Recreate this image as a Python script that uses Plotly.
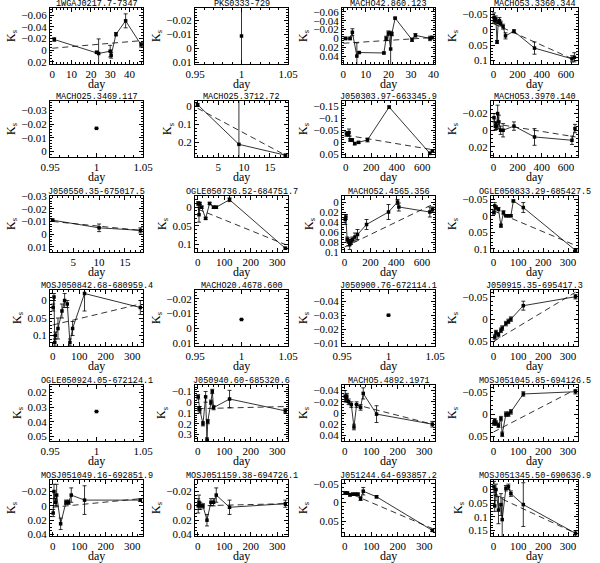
import plotly.graph_objects as go

# ---------------- data ----------------
names = ["1WGAJ0217.7-7347", "PKS0333-729", "MACHO42.860.123", "MACHO53.3360.344",
         "MACHO25.3469.117", "MACHO25.3712.72", "J050303.97-663345.9", "MACHO53.3970.140",
         "J050550.35-675017.5", "OGLE050736.52-684751.7", "MACHO52.4565.356", "OGLE050833.29-685427.5",
         "MOSJ050842.68-680959.4", "MACHO20.4678.600", "J050900.76-672114.1", "J050915.35-695417.3",
         "OGLE050924.05-672124.1", "J050940.60-685320.6", "MACHO5.4892.1971", "MOSJ051045.85-694126.5",
         "MOSJ051049.16-692851.9", "MOSJ051159.38-694726.1", "J051244.64-693857.2", "MOSJ051345.50-690636.9"]

day = [
    [1, 23, 24, 30, 30.5, 33, 38, 46],
    [1],
    [1, 3, 4, 6, 7, 18, 19, 20, 21, 21.5, 23, 30.5, 32, 38.5, 39.5],
    [5, 10, 20, 30, 40, 50, 60, 80, 100, 170, 340, 650, 670],
    [1],
    [1, 9, 18],
    [5, 15, 25, 35, 50, 70, 100, 170, 340, 660, 680],
    [5, 15, 20, 25, 35, 45, 60, 80, 170, 340, 650, 675],
    [1, 10, 18],
    [2, 5, 8, 15, 30, 45, 60, 70, 120, 330],
    [5, 10, 20, 30, 40, 50, 60, 80, 100, 170, 340, 410, 420, 660, 680],
    [2, 5, 10, 20, 30, 40, 50, 60, 70, 80, 120, 330],
    [2, 5, 8, 10, 20, 35, 45, 55, 65, 75, 120, 330],
    [1],
    [1],
    [5, 10, 20, 30, 35, 50, 60, 70, 120, 330],
    [1],
    [2, 5, 8, 20, 30, 35, 38, 50, 55, 60, 120, 330],
    [2, 5, 8, 15, 25, 35, 45, 60, 70, 120, 330],
    [2, 5, 10, 20, 30, 35, 50, 60, 70, 120, 330],
    [2, 5, 10, 15, 30, 50, 60, 70, 120, 330],
    [2, 5, 10, 20, 35, 50, 60, 70, 120, 330],
    [2, 10, 20, 30, 40, 50, 60, 70, 120, 330],
    [2, 5, 10, 20, 30, 35, 50, 60, 70, 120, 330],
]

ks = [
    [-0.018, 0.004, 0.006, 0.002, 0.009, -0.027, -0.05, -0.009],
    [-0.009],
    [0.0, 0.0, -0.014, 0.04, 0.032, 0.033, 0.0, -0.012, 0.024, -0.01, -0.046, 0.003, -0.007, 0.0, -0.002],
    [-0.04, -0.03, -0.035, 0.04, -0.025, -0.03, -0.02, -0.01, 0.02, 0.005, 0.06, 0.095, 0.09],
    [-0.017],
    [-0.01, 0.21, 0.27],
    [-0.035, -0.035, -0.04, -0.01, -0.01, 0.005, 0.0, -0.01, -0.145, 0.045, 0.035],
    [-0.015, -0.005, -0.005, -0.005, -0.02, -0.01, 0.0, 0.0, -0.005, 0.008, 0.012, -0.002],
    [-0.011, -0.005, -0.003],
    [-0.01, 0.02, -0.01, 0.0, 0.03, -0.01, 0.0, 0.0, -0.02, 0.11],
    [0.035, 0.03, 0.075, 0.08, 0.085, 0.08, 0.075, 0.07, 0.065, 0.045, 0.02, 0.0, 0.01, 0.02, 0.015],
    [-0.01, -0.03, -0.025, -0.02, 0.03, -0.01, 0.0, 0.0, 0.0, -0.045, -0.025, 0.105],
    [0.02, -0.01, 0.12, 0.1, 0.08, 0.03, 0.0, 0.01, 0.12, 0.08, -0.02, 0.02],
    [-0.006],
    [-0.03],
    [0.04, 0.03, 0.035, 0.025, 0.02, 0.01, 0.005, 0.0, -0.03, -0.05],
    [0.033],
    [-0.05, 0.06, 0.07, 0.2, -0.05, 0.35, 0.18, 0.0, -0.1, 0.05, -0.03, 0.08],
    [-0.03, -0.025, -0.03, -0.02, -0.015, 0.025, -0.015, -0.01, -0.035, 0.002, 0.02],
    [0.02, 0.015, 0.02, 0.025, 0.01, 0.045, 0.0, 0.0, -0.005, -0.045, -0.05],
    [0.01, -0.02, -0.005, -0.015, 0.025, -0.005, -0.005, -0.015, -0.008, -0.008],
    [0.0, -0.005, 0.0, 0.0, 0.02, -0.005, -0.005, -0.015, 0.002, -0.003],
    [-0.025, -0.025, -0.02, -0.022, -0.022, -0.022, -0.01, -0.03, -0.015, 0.075],
    [-0.01, 0.06, 0.0, 0.075, 0.055, 0.11, -0.005, -0.01, 0.015, 0.055, 0.16],
]

err = [
    [0.003, 0.002, 0.025, 0.01, 0.005, 0.003, 0.012, 0.004],
    [0.05],
    [0.003, 0.003, 0.008, 0.03, 0.002, 0.002, 0.005, 0.005, 0.04, 0.004, 0.002, 0.004, 0.004, 0.005, 0.003],
    [0.015, 0.01, 0.01, 0.005, 0.005, 0.01, 0.008, 0.008, 0.01, 0.005, 0.02, 0.01, 0.015],
    [0.0],
    [0.005, 0.3, 0.005],
    [0.01, 0.005, 0.015, 0.005, 0.005, 0.005, 0.004, 0.008, 0.005, 0.005, 0.005],
    [0.005, 0.005, 0.004, 0.004, 0.01, 0.008, 0.005, 0.008, 0.005, 0.01, 0.005, 0.005],
    [0.001, 0.003, 0.002],
    [0.005, 0.02, 0.003, 0.003, 0.003, 0.003, 0.003, 0.003, 0.005, 0.003],
    [0.01, 0.005, 0.005, 0.008, 0.01, 0.005, 0.005, 0.008, 0.01, 0.01, 0.015, 0.005, 0.008, 0.01, 0.005],
    [0.005, 0.01, 0.005, 0.005, 0.005, 0.005, 0.003, 0.003, 0.003, 0.003, 0.015, 0.005],
    [0.01, 0.01, 0.01, 0.01, 0.03, 0.02, 0.02, 0.01, 0.01, 0.02, 0.05, 0.02],
    [0.0],
    [0.0],
    [0.005, 0.005, 0.005, 0.005, 0.005, 0.005, 0.005, 0.005, 0.01, 0.005],
    [0.0],
    [0.02, 0.02, 0.03, 0.02, 0.05, 0.02, 0.02, 0.02, 0.02, 0.02, 0.08, 0.02],
    [0.01, 0.005, 0.005, 0.005, 0.005, 0.005, 0.005, 0.005, 0.01, 0.015, 0.005],
    [0.005, 0.005, 0.005, 0.005, 0.005, 0.005, 0.005, 0.005, 0.005, 0.005, 0.005],
    [0.005, 0.01, 0.005, 0.015, 0.008, 0.003, 0.003, 0.01, 0.02, 0.002],
    [0.01, 0.01, 0.005, 0.003, 0.008, 0.005, 0.005, 0.01, 0.01, 0.005],
    [0.003, 0.003, 0.003, 0.003, 0.003, 0.003, 0.005, 0.01, 0.003, 0.003],
    [0.02, 0.02, 0.02, 0.05, 0.04, 0.08, 0.01, 0.01, 0.01, 0.08, 0.01],
]

# dashed linear trend: [day0, day1, ks0, ks1]
trend = [
    [0, 46, -0.003, -0.016], None, [0, 40, 0.011, -0.002], [0, 680, -0.02, 0.1],
    None, [1, 18, 0.01, 0.27], [0, 680, -0.03, 0.03], [0, 680, -0.008, 0.008],
    [1, 18, -0.01, -0.003], [0, 330, 0.005, 0.1], [0, 680, 0.09, 0.005], [0, 330, -0.015, 0.09],
    [0, 330, 0.07, 0.01], None, None, [0, 330, 0.05, -0.06],
    None, [0, 330, 0.06, 0.04], [0, 330, -0.02, 0.02], [0, 330, 0.04, -0.055],
    [0, 330, 0.002, -0.01], [0, 330, 0.0, -0.003], [0, 330, -0.03, 0.07], [0, 330, 0.02, 0.16],
]

# ---------------- layout helpers ----------------
xr = [[-1.2, 47], [0.95, 1.05], [-0.6, 40.7], [-20, 700],
      [0.95, 1.05], [0.5, 18.5], [-30, 700], [-20, 700],
      [0.5, 18.5], [-10, 340], [-20, 700], [-10, 340],
      [-10, 340], [0.95, 1.05], [0.95, 1.05], [-10, 340],
      [0.95, 1.05], [-10, 340], [-10, 340], [-10, 340],
      [-10, 340], [-10, 340], [-10, 340], [-10, 340]]
xd = [(10, 2), (0.05, 0.01), (10, 2), (200, 50),
      (0.05, 0.01), (5, 1), (200, 50), (200, 50),
      (5, 1), (100, 20), (200, 50), (100, 20),
      (100, 20), (0.05, 0.01), (0.05, 0.01), (100, 20),
      (0.05, 0.01), (100, 20), (100, 20), (100, 20),
      (100, 20), (100, 20), (100, 20), (100, 20)]
yr = [[0.024, -0.072], [0.011, -0.029], [0.058, -0.069], [0.112, -0.071],
      [0.004, -0.037], [0.28, -0.03], [0.06, -0.17], [0.032, -0.035],
      [0.014, -0.03], [0.12, -0.03], [0.1, -0.012], [0.11, -0.06],
      [0.13, -0.03], [0.012, -0.026], [-0.008, -0.048], [0.06, -0.065],
      [0.053, 0.015], [0.36, -0.16], [0.05, -0.05], [0.06, -0.065],
      [0.042, -0.036], [0.042, -0.036], [0.09, -0.06], [0.17, -0.035]]
yd = [(0.02, 0.005), (0.01, 0.002), (0.02, 0.005), (0.05, 0.01),
      (0.01, 0.002), (0.1, 0.02), (0.05, 0.01), (0.02, 0.005),
      (0.01, 0.002), (0.05, 0.01), (0.02, 0.005), (0.05, 0.01),
      (0.05, 0.01), (0.01, 0.002), (0.01, 0.002), (0.05, 0.01),
      (0.01, 0.002), (0.1, 0.02), (0.02, 0.005), (0.05, 0.01),
      (0.02, 0.005), (0.02, 0.005), (0.05, 0.01), (0.05, 0.01)]

W, H = 600, 563
col_px = [(50, 143), (195, 288), (342, 435), (491, 578)]
row_top = [8, 101, 196, 290, 385, 480]
ph = 56
FONT = "Liberation Serif"

fig = go.Figure()
annotations = []
for i in range(24):
    r, c = divmod(i, 4)
    ax = "" if i == 0 else str(i + 1)
    xa, ya = "x" + ax, "y" + ax
    if trend[i] is not None:
        t = trend[i]
        fig.add_trace(go.Scatter(x=[t[0], t[1]], y=[t[2], t[3]], mode="lines",
                                 line=dict(color="black", width=0.8, dash="6px,4px"),
                                 xaxis=xa, yaxis=ya, showlegend=False, hoverinfo="skip"))
    fig.add_trace(go.Scatter(x=day[i], y=ks[i], mode="lines+markers",
                             line=dict(color="black", width=0.8),
                             marker=dict(color="black", size=3.5, symbol="square"),
                             error_y=dict(type="data", array=err[i], color="black",
                                          thickness=0.8, width=2),
                             xaxis=xa, yaxis=ya, showlegend=False, cliponaxis=True))
    x0, x1 = col_px[c]
    y0 = row_top[r]
    common = dict(showline=True, linecolor="black", linewidth=1.2, mirror="ticks",
                  ticks="inside", ticklen=4, tickcolor="black", tickwidth=1,
                  showgrid=False, zeroline=False, automargin=False,
                  tickfont=dict(family=FONT, size=11, color="black"))
    fig.layout["xaxis" + ax] = dict(
        domain=[x0 / W, x1 / W], anchor=ya, range=xr[i], dtick=xd[i][0], tick0=0,
        minor=dict(ticks="inside", ticklen=2, dtick=xd[i][1], tickcolor="black"),
        **common)
    fig.layout["yaxis" + ax] = dict(
        domain=[1 - (y0 + ph) / H, 1 - y0 / H], anchor=xa, range=yr[i], dtick=yd[i][0], tick0=0,
        minor=dict(ticks="inside", ticklen=2, dtick=yd[i][1], tickcolor="black"),
        title=dict(text="K<sub>s</sub>", font=dict(family=FONT, size=12, color="black"), standoff=3),
        **common)
    annotations.append(dict(text=names[i], x=(x0 + x1) / 2 / W, y=1 - (y0 - 4) / H,
                            xref="paper", yref="paper", xanchor="center", yanchor="middle",
                            showarrow=False, font=dict(family="Liberation Mono", size=8.5, color="black")))
    annotations.append(dict(text="day", x=(x0 + x1) / 2 / W, y=1 - (y0 + ph + 20) / H,
                            xref="paper", yref="paper", xanchor="center", yanchor="middle",
                            showarrow=False, font=dict(family=FONT, size=12, color="black")))

fig.update_layout(width=W, height=H, margin=dict(l=0, r=0, t=0, b=0),
                  paper_bgcolor="white", plot_bgcolor="white", annotations=annotations)
fig.write_html("out.html", config={"displayModeBar": False},
               post_script="document.body.style.margin='0';document.body.style.overflow='hidden';")
